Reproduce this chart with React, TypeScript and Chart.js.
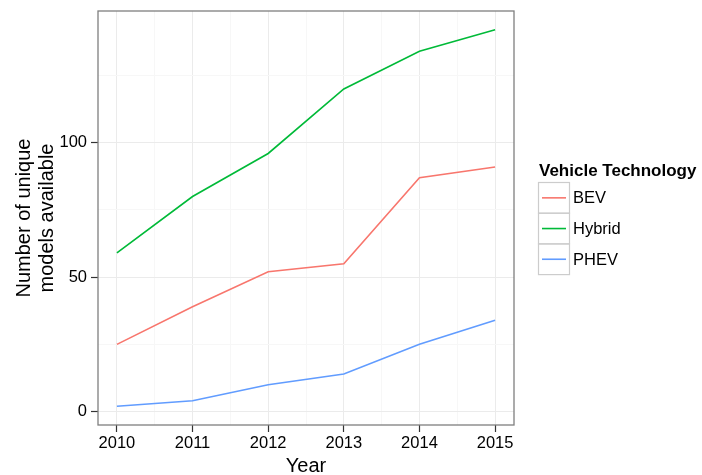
import React, { useEffect, useRef } from 'react';
import { Chart, registerables } from 'chart.js';

Chart.register(...registerables);

const years = [2010, 2011, 2012, 2013, 2014, 2015];
const bev = [25, 39, 52, 55, 87, 91];
const hybrid = [59, 80, 96, 120, 134, 142];
const phev = [2, 4, 10, 14, 25, 34];
const seriesNames = ['BEV', 'Hybrid', 'PHEV'];
const seriesColors = ['#F8766D', '#00BA38', '#619CFF'];
const yMajorTicks = [0, 50, 100];
const yMinorTicks = [25, 75, 125];
const xMajorTicks = years;
const xMinorTicks = [2010.5, 2011.5, 2012.5, 2013.5, 2014.5];
const xTitle = 'Year';
const yTitle = ['Number of unique', 'models available'];
const legendTitle = 'Vehicle Technology';

const FONT = '"Liberation Sans", Arial, Helvetica, sans-serif';

function expand(vals: number[]) {
  const mn = Math.min(...vals);
  const mx = Math.max(...vals);
  const pad = (mx - mn) * 0.05;
  return [mn - pad, mx + pad];
}

const decor = {
  id: 'decor',
  afterDraw(chart: any) {
    const { ctx, chartArea: a } = chart;
    ctx.save();
    ctx.strokeStyle = '#7f7f7f';
    ctx.lineWidth = 1.3;
    ctx.strokeRect(a.left, a.top, a.right - a.left, a.bottom - a.top);

    ctx.fillStyle = '#000';
    ctx.font = `20px ${FONT}`;
    ctx.textAlign = 'center';
    ctx.textBaseline = 'alphabetic';
    ctx.fillText(xTitle, (a.left + a.right) / 2, 472);
    const cy = (a.top + a.bottom) / 2;
    yTitle.forEach((t, i) => {
      ctx.save();
      ctx.translate(29.5 + 23 * i, cy);
      ctx.rotate(-Math.PI / 2);
      ctx.fillText(t, 0, 0);
      ctx.restore();
    });

    // legend
    ctx.textAlign = 'left';
    ctx.font = `bold 17px ${FONT}`;
    ctx.fillText(legendTitle, 539, 176);
    const bx = 538.5, bw = 31, bh = 30.7, by = 182.5;
    ctx.font = `16.5px ${FONT}`;
    ctx.textBaseline = 'middle';
    seriesNames.forEach((n, i) => {
      const top = by + i * bh;
      ctx.strokeStyle = '#cccccc';
      ctx.lineWidth = 1.2;
      ctx.strokeRect(bx, top, bw, bh);
      ctx.strokeStyle = seriesColors[i];
      ctx.lineWidth = 1.6;
      ctx.beginPath();
      ctx.moveTo(bx + 3.5, top + bh / 2);
      ctx.lineTo(bx + bw - 3.5, top + bh / 2);
      ctx.stroke();
      ctx.fillStyle = '#000';
      ctx.fillText(n, 573, top + bh / 2 + 1);
    });
    ctx.restore();
  },
};

export default function App() {
  const ref = useRef<HTMLCanvasElement | null>(null);
  useEffect(() => {
    if (!ref.current) return;
    const [xMin, xMax] = expand(years);
    const [yMin, yMax] = expand([...bev, ...hybrid, ...phev]);
    const allSeries = [bev, hybrid, phev];
    const isMajorX = (v: number) => xMajorTicks.includes(v);
    const isMajorY = (v: number) => yMajorTicks.includes(v);
    const chart = new Chart(ref.current, {
      type: 'line',
      data: {
        datasets: allSeries.map((s, i) => ({
          label: seriesNames[i],
          data: years.map((y, j) => ({ x: y, y: s[j] })),
          borderColor: seriesColors[i],
          backgroundColor: seriesColors[i],
          borderWidth: 1.6,
          pointRadius: 0,
          tension: 0,
          fill: false,
        })),
      },
      options: {
        responsive: false,
        animation: false,
        events: [],
        layout: { padding: { left: 0, top: 11, right: 188, bottom: 0 } },
        plugins: { legend: { display: false }, tooltip: { enabled: false } },
        scales: {
          x: {
            type: 'linear',
            min: xMin,
            max: xMax,
            afterBuildTicks: (s: any) => {
              s.ticks = [...xMajorTicks, ...xMinorTicks].sort((a, b) => a - b).map((v) => ({ value: v }));
            },
            afterFit: (s: any) => {
              s.height = 50;
              s.paddingLeft = 0; s.paddingRight = 0; s.paddingTop = 0; s.paddingBottom = 0;
            },
            border: { display: false },
            grid: {
              color: (c: any) => (c.tick && isMajorX(c.tick.value) ? '#ebebeb' : '#f7f7f7'),
              lineWidth: 1,
              tickLength: 7,
              tickWidth: 1.2,
              tickColor: (c: any) => (c.tick && isMajorX(c.tick.value) ? '#333333' : 'rgba(0,0,0,0)'),
            },
            ticks: {
              padding: 2,
              color: '#000',
              autoSkip: false,
              maxRotation: 0,
              font: { size: 16.5, family: FONT },
              callback: (v: any) => (isMajorX(Number(v)) ? String(v) : ''),
            },
          },
          y: {
            type: 'linear',
            min: yMin,
            max: yMax,
            afterBuildTicks: (s: any) => {
              s.ticks = [...yMajorTicks, ...yMinorTicks].sort((a, b) => a - b).map((v) => ({ value: v }));
            },
            afterFit: (s: any) => {
              s.width = 98;
              s.paddingLeft = 0; s.paddingRight = 0; s.paddingTop = 0; s.paddingBottom = 0;
            },
            border: { display: false },
            grid: {
              color: (c: any) => (c.tick && isMajorY(c.tick.value) ? '#ebebeb' : '#f7f7f7'),
              lineWidth: 1,
              tickLength: 7,
              tickWidth: 1.2,
              tickColor: (c: any) => (c.tick && isMajorY(c.tick.value) ? '#333333' : 'rgba(0,0,0,0)'),
            },
            ticks: {
              padding: 4,
              color: '#000',
              font: { size: 16.5, family: FONT },
              callback: (v: any) => (isMajorY(Number(v)) ? String(v) : ''),
            },
          },
        },
      },
      plugins: [decor],
    } as any);
    return () => chart.destroy();
  }, []);
  return (
    <div style={{ position: 'fixed', left: 0, top: 0, width: 702, height: 475, background: '#fff' }}>
      <canvas ref={ref} width={702} height={475} style={{ display: 'block', width: 702, height: 475 }} />
    </div>
  );
}
